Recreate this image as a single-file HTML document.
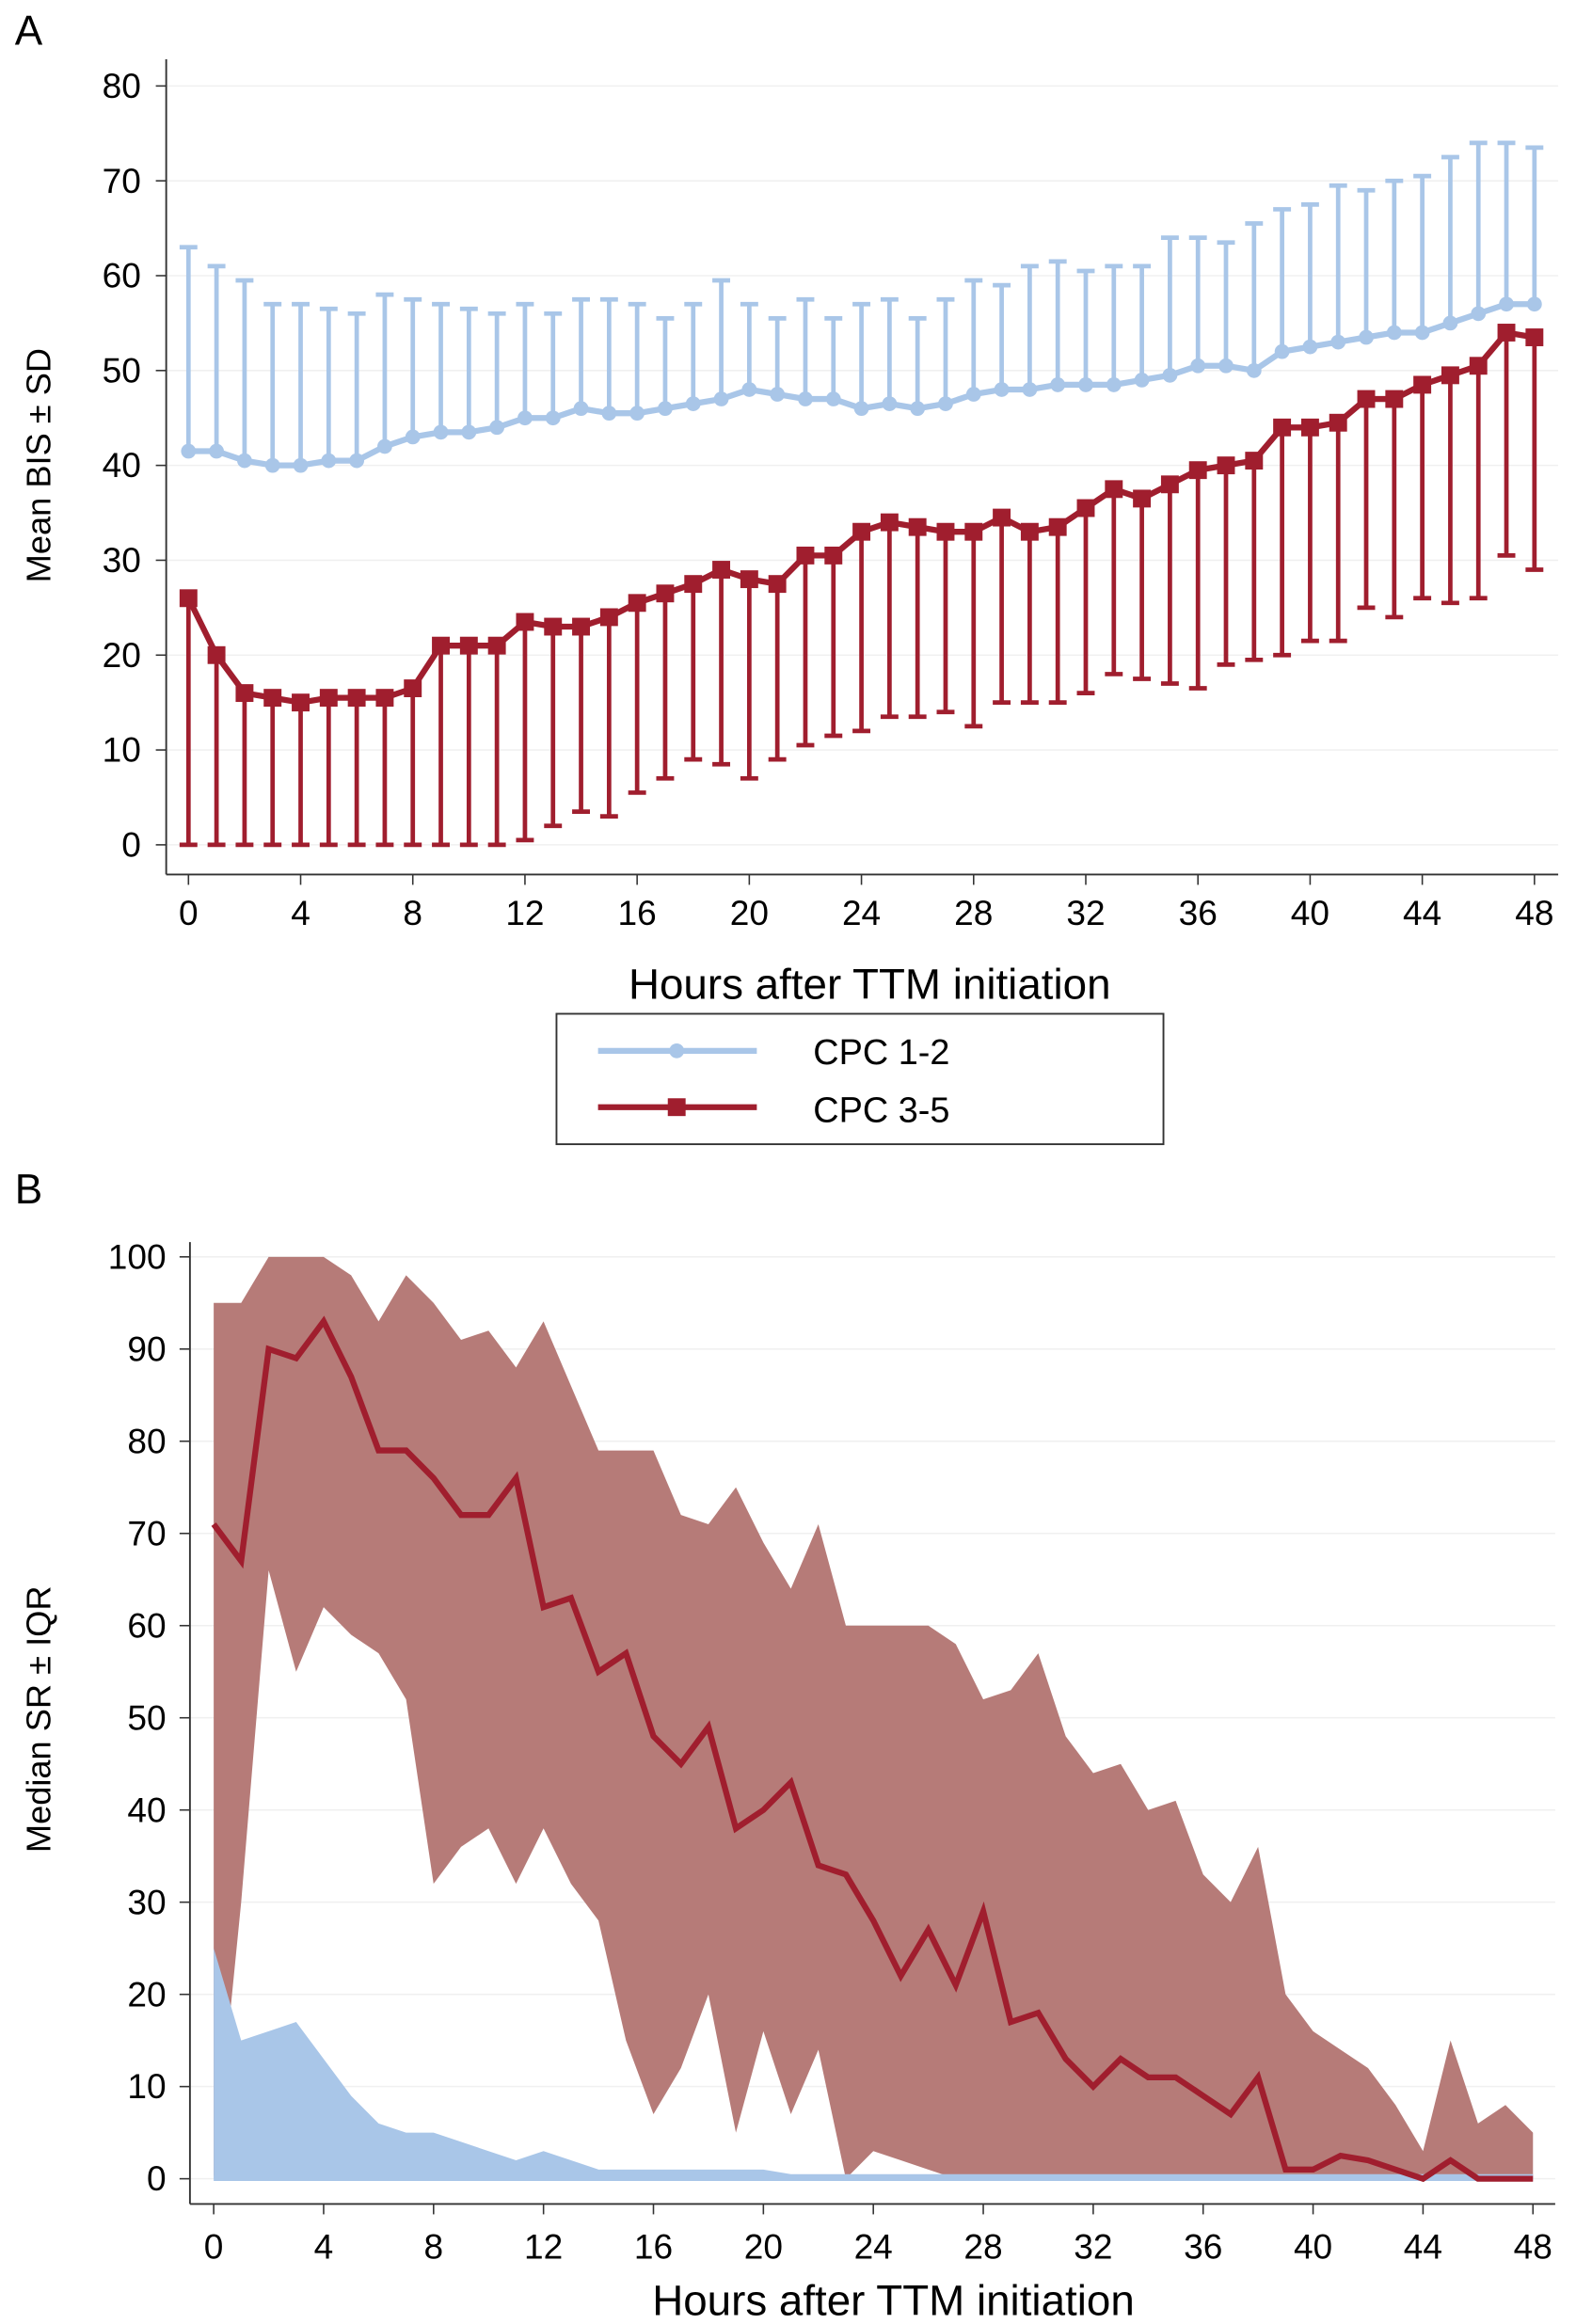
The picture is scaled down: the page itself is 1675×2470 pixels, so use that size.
<!DOCTYPE html>
<html><head><meta charset="utf-8"><style>
html,body{margin:0;padding:0;background:#fff;}
svg{display:block;font-family:"Liberation Sans",sans-serif;}
</style></head><body>
<svg id="chart" width="1675" height="2470" viewBox="0 0 1062 1568" preserveAspectRatio="none" xmlns="http://www.w3.org/2000/svg">
<g id="A"></g>
<g id="B"></g>
</svg>
<script>
const hours = Array.from({length:49},(_,i)=>i);
const xTicks = [0,4,8,12,16,20,24,28,32,36,40,44,48];
const yTicksA = [0,10,20,30,40,50,60,70,80];
const yTicksB = [0,10,20,30,40,50,60,70,80,90,100];
const goodMean = [41.5,41.5,40.5,40,40,40.5,40.5,42,43,43.5,43.5,44,45,45,46,45.5,45.5,46,46.5,47,48,47.5,47,47,46,46.5,46,46.5,47.5,48,48,48.5,48.5,48.5,49,49.5,50.5,50.5,50,52,52.5,53,53.5,54,54,55,56,57,57];
const goodUpper = [63,61,59.5,57,57,56.5,56,58,57.5,57,56.5,56,57,56,57.5,57.5,57,55.5,57,59.5,57,55.5,57.5,55.5,57,57.5,55.5,57.5,59.5,59,61,61.5,60.5,61,61,64,64,63.5,65.5,67,67.5,69.5,69,70,70.5,72.5,74,74,73.5];
const poorMean = [26,20,16,15.5,15,15.5,15.5,15.5,16.5,21,21,21,23.5,23,23,24,25.5,26.5,27.5,29,28,27.5,30.5,30.5,33,34,33.5,33,33,34.5,33,33.5,35.5,37.5,36.5,38,39.5,40,40.5,44,44,44.5,47,47,48.5,49.5,50.5,54,53.5];
const poorLower = [0,0,0,0,0,0,0,0,0,0,0,0,0.5,2,3.5,3,5.5,7,9,8.5,7,9,10.5,11.5,12,13.5,13.5,14,12.5,15,15,15,16,18,17.5,17,16.5,19,19.5,20,21.5,21.5,25,24,26,25.5,26,30.5,29];
const srPoorMed = [71,67,90,89,93,87,79,79,76,72,72,76,62,63,55,57,48,45,49,38,40,43,34,33,28,22,27,21,29,17,18,13,10,13,11,11,9,7,11,1,1,2.5,2,1,0,2,0,0,0];
const srPoorUp = [95,95,100,100,100,98,93,98,95,91,92,88,93,86,79,79,79,72,71,75,69,64,71,60,60,60,60,58,52,53,57,48,44,45,40,41,33,30,36,20,16,14,12,8,3,15,6,8,5];
const srPoorLo = [0,30,66,55,62,59,57,52,32,36,38,32,38,32,28,15,7,12,20,5,16,7,14,0,3,2,1,0,0,0,0,0,0,0,0,0,0,0,0,0,0,0,0,0,0,0,0,0,0];
const srGoodUp = [25,15,16,17,13,9,6,5,5,4,3,2,3,2,1,1,1,1,1,1,1,0.5,0.5,0.5,0.5,0.5,0.5,0.5,0.5,0.5,0.5,0.5,0.5,0.5,0.5,0.5,0.5,0.5,0.5,0.5,0.5,0.5,0.5,0.5,0.5,0.5,0.5,0.5,0.5];
const srGoodMed = hours.map(()=>0);

const NS="http://www.w3.org/2000/svg";
function mk(parent,tag,attrs,text){const e=document.createElementNS(NS,tag);for(const k in attrs)e.setAttribute(k,attrs[k]);if(text!==undefined)e.textContent=text;parent.appendChild(e);return e;}

const BLUE="#a9c6e8", RED="#a01e2e";
const TF=23.5, AF=29;
// Panel A
const A=document.getElementById('A');
const xA=h=>127+h*(1034-127)/48, yA=v=>570-v*(570-58)/80;
mk(A,'text',{x:10,y:30,'font-size':28},'A');
for(const t of yTicksA){
  const g=mk(A,'line',{x1:112,x2:1050,y1:yA(t),y2:yA(t),stroke:'#f0f0f0','stroke-width':1});
  
  const l=mk(A,'line',{x1:105,x2:112,y1:yA(t),y2:yA(t),stroke:'#333'});
  
  const tx=mk(A,'text',{x:95,y:yA(t)+8,'font-size':TF,'text-anchor':'end'},t);
  
}
mk(A,'line',{x1:112,x2:112,y1:40,y2:590,stroke:'#333','stroke-width':1.2});
mk(A,'line',{x1:112,x2:1050,y1:590,y2:590,stroke:'#333','stroke-width':1.2});
for(const t of xTicks){
  mk(A,'line',{x1:xA(t),x2:xA(t),y1:590,y2:597,stroke:'#333'});
  const tx=mk(A,'text',{x:xA(t),y:624,'font-size':TF,'text-anchor':'middle'},t);
  
}
const yta=mk(A,'text',{x:34,y:314,'font-size':23,'text-anchor':'middle',transform:'rotate(-90 34 314)'},'Mean BIS ± SD');

const xta=mk(A,'text',{x:586,y:674,'font-size':AF,'text-anchor':'middle'},'Hours after TTM initiation');

hours.forEach((h,i)=>{
  const e=mk(A,'line',{x1:xA(h),x2:xA(h),y1:yA(goodMean[i]),y2:yA(goodUpper[i]),stroke:BLUE,'stroke-width':3});
  
  const c=mk(A,'line',{x1:xA(h)-6,x2:xA(h)+6,y1:yA(goodUpper[i]),y2:yA(goodUpper[i]),stroke:BLUE,'stroke-width':3});
  
  const e2=mk(A,'line',{x1:xA(h),x2:xA(h),y1:yA(poorMean[i]),y2:yA(poorLower[i]),stroke:RED,'stroke-width':3});
  
  const c2=mk(A,'line',{x1:xA(h)-6,x2:xA(h)+6,y1:yA(poorLower[i]),y2:yA(poorLower[i]),stroke:RED,'stroke-width':3});
  
});
const lg=mk(A,'polyline',{points:hours.map((h,i)=>xA(h)+','+yA(goodMean[i])).join(' '),fill:'none',stroke:BLUE,'stroke-width':4});

const lp=mk(A,'polyline',{points:hours.map((h,i)=>xA(h)+','+yA(poorMean[i])).join(' '),fill:'none',stroke:RED,'stroke-width':4});

hours.forEach((h,i)=>{
  const m=mk(A,'circle',{cx:xA(h),cy:yA(goodMean[i]),r:5,fill:BLUE});
  
  const s=mk(A,'rect',{x:xA(h)-6,y:yA(poorMean[i])-6,width:12,height:12,fill:RED});
  
});
const leg=mk(A,'g',{});

mk(leg,'rect',{x:375,y:684,width:409,height:88,fill:'#fff',stroke:'#333','stroke-width':1.2});
mk(leg,'line',{x1:403,x2:510,y1:709,y2:709,stroke:BLUE,'stroke-width':4});
mk(leg,'circle',{cx:456,cy:709,r:5,fill:BLUE});
mk(leg,'text',{x:548,y:718,'font-size':24},'CPC 1-2');
mk(leg,'line',{x1:403,x2:510,y1:747,y2:747,stroke:RED,'stroke-width':4});
mk(leg,'rect',{x:450,y:741,width:12,height:12,fill:RED});
mk(leg,'text',{x:548,y:757,'font-size':24},'CPC 3-5');

// Panel B
const B=document.getElementById('B');
const xB=h=>144+h*(1033-144)/48, yB=v=>1470-v*(1470-848)/100;
mk(B,'text',{x:10,y:812,'font-size':28},'B');
for(const t of yTicksB){
  mk(B,'line',{x1:128,x2:1048,y1:yB(t),y2:yB(t),stroke:'#f0f0f0'});
  mk(B,'line',{x1:121,x2:128,y1:yB(t),y2:yB(t),stroke:'#333'});
  mk(B,'text',{x:112,y:yB(t)+8,'font-size':TF,'text-anchor':'end'},t);
}
const bandP=hours.map((h,i)=>xB(h)+','+yB(srPoorUp[i])).concat(hours.slice().reverse().map(h=>xB(h)+','+yB(srPoorLo[h]))).join(' ');
mk(B,'polygon',{points:bandP,fill:'#b67b78'});
const bandG=hours.map((h,i)=>xB(h)+','+yB(srGoodUp[i])).concat([xB(48)+','+yB(0),xB(0)+','+yB(0)]).join(' ');
mk(B,'polygon',{points:bandG,fill:BLUE});
mk(B,'polyline',{points:hours.map((h,i)=>xB(h)+','+yB(srGoodMed[i])).join(' '),fill:'none',stroke:BLUE,'stroke-width':3});
mk(B,'polyline',{points:hours.map((h,i)=>xB(h)+','+yB(srPoorMed[i])).join(' '),fill:'none',stroke:RED,'stroke-width':4});
mk(B,'line',{x1:128,x2:128,y1:838,y2:1487,stroke:'#333','stroke-width':1.2});
mk(B,'line',{x1:128,x2:1048,y1:1487,y2:1487,stroke:'#333','stroke-width':1.2});
for(const t of xTicks){
  mk(B,'line',{x1:xB(t),x2:xB(t),y1:1487,y2:1494,stroke:'#333'});
  mk(B,'text',{x:xB(t),y:1524,'font-size':TF,'text-anchor':'middle'},t);
}
mk(B,'text',{x:34,y:1160,'font-size':23,'text-anchor':'middle',transform:'rotate(-90 34 1160)'},'Median SR ± IQR');
mk(B,'text',{x:602,y:1562,'font-size':AF,'text-anchor':'middle'},'Hours after TTM initiation');
</script>
</body></html>
